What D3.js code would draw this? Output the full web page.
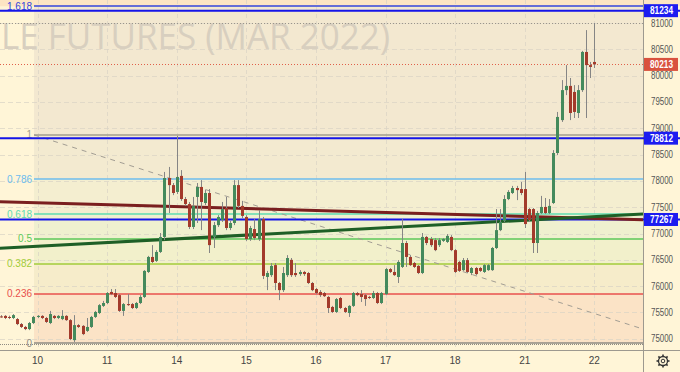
<!DOCTYPE html>
<html>
<head>
<meta charset="utf-8">
<title>Futures hourly</title>
<script src="https://d3js.org/d3.v7.min.js"></script>
<style>
  body { margin: 0; background: #fff5d7; }
  svg text { font-family: "Liberation Sans", Arial, sans-serif; }
</style>
</head>
<body>
<div id="chart"></div>
<script>
"use strict"
// hourly bars, index 0 = first bar of day 10 (the 9 before it belong to the previous day)
var firstBar = -9
var opens = [75425,75435,75415,75395,75375,75280,75225,75185,75300,
  75415,75435,75395,75300,75435,75395,75375,75435,75355,74975,75260,75245,75150,75225,75415,75490,75625,
  75680,75890,75870,75830,75530,75660,75660,75585,75680,75795,76270,76555,76480,76650,76935,78055,77920,
  77790,78095,77655,77560,77125,77695,77885,77580,77770,76935,77160,77255,77485,77105,77200,77920,77525,
  77315,76895,77085,76895,77275,76175,76210,76400,76060,75925,76210,76500,76250,76230,76270,76250,76060,
  75945,75890,75870,75795,75605,75510,75775,75585,75490,75625,75870,75850,75830,75795,75775,75870,75680,
  75850,76325,76270,76175,76365,76820,76555,76440,76385,76250,76935,76895,76875,76780,76860,76840,76935,
  76685,76460,76305,76495,76250,76345,76345,76270,76305,76305,76725,77065,77240,77655,77770,77865,77845,
  77845,77465,77465,76820,77390,77505,77390,77580,78530,79155,79725,79805,79690,79290,79725,80450,80200,
  80260]
var highs = [75450,75450,75440,75470,75395,75300,75245,75320,75435,
  75450,75450,75415,75530,75450,75450,75545,75450,75375,75450,75280,75260,75395,75435,75530,75660,75720,
  75890,75945,75945,75850,75680,75850,75680,75700,75830,76305,76575,76780,76685,77010,78170,78265,77960,
  78855,78205,77695,77600,77695,77960,78015,77830,77845,77220,77350,77600,77695,77240,78015,78015,77620,
  77350,77145,77275,77445,77315,76290,76440,76440,76080,76365,76590,76535,76440,76305,76290,76270,76080,
  75965,75925,75890,75815,75625,75775,75795,75605,75640,75890,75890,75925,75850,75815,75910,75890,75890,
  76345,76345,76400,76495,77275,76860,76590,76460,76400,77010,76955,76935,76915,76915,76915,76990,76970,
  76705,76480,76535,76535,76365,76365,76365,76420,76420,76745,77465,77465,77730,77825,77905,77905,77980,
  78170,77485,77485,77430,77715,77675,77655,78585,79310,79915,80200,79955,79820,79820,80470,80865,80260,
  81000]
var lows = [75400,75375,75375,75375,75260,75205,75165,75165,75280,
  75395,75375,75300,75280,75375,75375,75355,75340,74975,74940,75205,75070,75130,75205,75395,75470,75605,
  75660,75830,75775,75510,75435,75625,75565,75565,75660,75775,76250,76440,76460,76630,76875,77390,77730,
  77750,77620,77525,77085,77085,77200,77065,77540,76630,76725,77125,77220,77065,77065,77160,77485,77295,
  76860,76860,76875,76860,76135,75925,76175,75925,75735,75890,76175,76175,76175,76195,76195,76040,75905,
  75850,75795,75795,75490,75490,75490,75565,75490,75415,75605,75810,75700,75625,75755,75755,75660,75660,
  75830,76250,76195,76060,76345,76365,76385,76345,76230,76230,76780,76745,76665,76745,76840,76820,76665,
  76250,76270,76290,76250,76210,76210,76270,76250,76290,76290,76705,77045,77220,77635,77750,77635,77730,
  77105,77220,76630,76630,77370,77370,77370,77560,78490,79120,79630,79155,79195,79195,79690,79195,79955,
  80145]
var closes = [75420,75395,75405,75450,75280,75225,75185,75300,75415,
  75435,75395,75320,75470,75395,75435,75435,75355,74995,75260,75225,75090,75225,75415,75510,75640,75680,
  75870,75850,75795,75530,75660,75640,75585,75680,75795,76290,76555,76460,76650,76935,78055,77920,77770,
  78075,77655,77560,77125,77525,77885,77600,77770,76780,77160,77315,77465,77105,77200,77920,77525,77335,
  76895,77105,76915,77275,76195,76250,76385,76060,75925,76250,76535,76210,76210,76270,76230,76060,75925,
  75870,75830,75810,75585,75510,75755,75585,75510,75625,75870,75830,75795,75755,75775,75870,75680,75870,
  76325,76270,76210,76460,76820,76555,76400,76365,76250,76935,76820,76780,76685,76875,76895,76955,76685,
  76270,76290,76495,76270,76345,76230,76290,76400,76400,76725,77065,77220,77655,77790,77865,77825,77770,
  77180,77255,76820,77390,77505,77390,77525,78530,79215,79725,79805,79290,79310,79725,80450,80200,80165,
  80213]

var dayLabels = ['10', '11', '14', '15', '16', '17', '18', '21', '22']
var barsPerDay = 17
var priceTicks = [75000, 75500, 76000, 76500, 77000, 77500, 78000, 78500, 79000, 79500, 80000, 80500, 81000]

// fibonacci retracement drawn from the high (bar -0.85) down to the low
var fibHigh = 78874, fibLow = 74920
var fibStartBar = -0.85, fibEndBar = 158.6
var fibLevels = [0, 0.236, 0.382, 0.5, 0.618, 0.786, 1, 1.618]
var fibLabels = ['0', '0.236', '0.382', '0.5', '0.618', '0.786', '1', '1.618']

var markedLevels = [81234, 78812, 77267]
var lastPrice = 80213
var sessionHigh = 81000
// two hand drawn trend lines: [bar, price] pairs
var redTrend = [[-9.2, 77605], [147.9, 77263]]
var greenTrend = [[-9.2, 76720], [147.9, 77371]]

// styles
var fibLineColor = ['#8f8b82', '#e8504c', '#a2cc3a', '#5cc95a', '#5edcb0', '#6cbcee', '#a39c8e', '#3344dd']
var fibFill = ['#fbe3c6', '#f6ecca', '#f2f0cb', '#eff0cf', '#f4eed0', '#f3ead0', '#f3e8d0']

var W = 680, H = 372, plotW = 643, plotH = 350

var svg = d3.select('#chart').append('svg')
  .attr('width', W).attr('height', H)

var x = d3.scaleLinear().domain([0, 136]).range([37.5, 594.3])
var y = d3.scaleLinear().domain([75000, 81000]).range([338.8, 23])
var fibPrice = l => fibLow + (fibHigh - fibLow) * l
var crisp = v => Math.round(v) + 0.5

var bars = opens.map((o, i) => ({ i: firstBar + i, o: o, h: highs[i], l: lows[i], c: closes[i] }))

svg.append('rect').attr('width', W).attr('height', H).attr('fill', '#fff5d7')

// band above the top level
svg.append('rect').attr('x', 0).attr('y', 0).attr('width', W)
  .attr('height', y(fibPrice(1.618))).attr('fill', '#fde5c3')

svg.append('clipPath').attr('id', 'plot')
  .append('rect').attr('width', plotW).attr('height', plotH)

var g = svg.append('g').attr('clip-path', 'url(#plot)')

// fib fills
var fx0 = x(fibStartBar)
g.selectAll('rect.fib').data(fibLevels.slice(0, -1)).enter()
  .append('rect').attr('class', 'fib')
  .attr('x', fx0).attr('width', plotW - fx0)
  .attr('y', (d, i) => y(fibPrice(fibLevels[i + 1])))
  .attr('height', (d, i) => y(fibPrice(d)) - y(fibPrice(fibLevels[i + 1])))
  .attr('fill', (d, i) => fibFill[i])

// grid
g.append('g').selectAll('line').data(priceTicks).enter().append('line')
  .attr('x1', 0).attr('x2', plotW).attr('y1', d => crisp(y(d))).attr('y2', d => crisp(y(d)))
  .attr('stroke', '#d9d3c4').attr('stroke-opacity', 0.7).attr('stroke-dasharray', '5,3')
g.append('g').selectAll('line').data(dayLabels).enter().append('line')
  .attr('x1', (d, i) => crisp(x(i * barsPerDay))).attr('x2', (d, i) => crisp(x(i * barsPerDay)))
  .attr('y1', 0).attr('y2', plotH)
  .attr('stroke', '#d9d3c4').attr('stroke-opacity', 0.7).attr('stroke-dasharray', '4,3')

// watermark
g.append('text').attr('x', 1).attr('y', 49)
  .attr('font-size', 36).attr('fill', '#d8cfbf')
  .attr('textLength', 389).attr('lengthAdjust', 'spacingAndGlyphs')
  .style('font-family', '"Open Sans", "Liberation Sans", sans-serif')
  .text('LE FUTURES (MAR 2022)')

// fib levels
g.append('g').selectAll('line').data(fibLevels).enter().append('line')
  .attr('x1', fx0).attr('x2', plotW)
  .attr('y1', d => Math.round(y(fibPrice(d)))).attr('y2', d => Math.round(y(fibPrice(d))))
  .attr('stroke', (d, i) => fibLineColor[i]).attr('stroke-width', 1.6)
g.append('line').attr('x1', 0).attr('x2', plotW)
  .attr('y1', crisp(y(fibLow)) + 1).attr('y2', crisp(y(fibLow)) + 1)
  .attr('stroke', '#8f8b82').attr('stroke-dasharray', '1,1')
g.append('g').selectAll('text').data(fibLevels).enter().append('text')
  .attr('x', fx0 - 2).attr('y', d => y(fibPrice(d)))
  .attr('dy', '0.35em').attr('text-anchor', 'end').attr('font-size', 10)
  .attr('fill', (d, i) => fibLineColor[i])
  .text((d, i) => fibLabels[i])

// dashed line between fib anchors
g.append('line')
  .attr('x1', x(fibStartBar)).attr('y1', y(fibHigh))
  .attr('x2', x(fibEndBar)).attr('y2', y(fibLow))
  .attr('stroke', '#a29d93').attr('stroke-width', 1).attr('stroke-dasharray', '5,5')

// session high and last price
g.append('line').attr('x1', 0).attr('x2', plotW)
  .attr('y1', crisp(y(sessionHigh))).attr('y2', crisp(y(sessionHigh)))
  .attr('stroke', '#9a958b').attr('stroke-dasharray', '1,2')
g.append('line').attr('x1', 0).attr('x2', plotW)
  .attr('y1', crisp(y(lastPrice))).attr('y2', crisp(y(lastPrice)))
  .attr('stroke', '#e0604a').attr('stroke-dasharray', '1,2')

// marked horizontal levels
g.append('g').selectAll('line').data(markedLevels).enter().append('line')
  .attr('x1', 0).attr('x2', plotW).attr('y1', d => y(d)).attr('y2', d => y(d))
  .attr('stroke', '#1515e8').attr('stroke-width', 2)

// trend lines
var trend = d3.line().x(d => x(d[0])).y(d => y(d[1]))
g.append('path').attr('d', trend(redTrend)).attr('fill', 'none')
  .attr('stroke', '#7a1f1f').attr('stroke-width', 3)
g.append('path').attr('d', trend(greenTrend)).attr('fill', 'none')
  .attr('stroke', '#1e5f26').attr('stroke-width', 3)

// candles
var up = d => d.c >= d.o
var candles = g.append('g').selectAll('g').data(bars).enter().append('g')
candles.append('line')
  .attr('x1', d => Math.round(x(d.i)) + 0.5).attr('x2', d => Math.round(x(d.i)) + 0.5)
  .attr('y1', d => y(d.h)).attr('y2', d => y(d.l))
  .attr('stroke', '#858585')
candles.append('rect')
  .attr('x', d => Math.round(x(d.i)) - 1)
  .attr('width', 3)
  .attr('y', d => y(Math.max(d.o, d.c)))
  .attr('height', d => Math.max(1, Math.abs(y(d.o) - y(d.c))))
  .attr('fill', d => up(d) ? '#448a5c' : '#a33a2b')

// axis panels
svg.append('rect').attr('x', plotW).attr('y', y(fibPrice(1.618))).attr('width', W - plotW)
  .attr('height', H).attr('fill', '#fff5d7')
svg.append('rect').attr('x', 0).attr('y', plotH).attr('width', W).attr('height', H - plotH)
  .attr('fill', '#fff5d7')
svg.append('line').attr('x1', plotW + 0.5).attr('x2', plotW + 0.5).attr('y1', 0).attr('y2', H)
  .attr('stroke', '#9d998f')
svg.append('line').attr('x1', 0).attr('x2', W).attr('y1', plotH + 0.5).attr('y2', plotH + 0.5)
  .attr('stroke', '#9d998f')

// marked levels also run into the axis
svg.append('g').selectAll('line').data(markedLevels).enter().append('line')
  .attr('x1', plotW).attr('x2', W).attr('y1', d => y(d)).attr('y2', d => y(d))
  .attr('stroke', '#1515e8').attr('stroke-width', 2)

svg.append('g').selectAll('text').data(priceTicks).enter().append('text')
  .attr('x', 651).attr('y', d => y(d)).attr('dy', '0.35em')
  .attr('font-size', 10).attr('fill', '#555')
  .attr('textLength', 22).attr('lengthAdjust', 'spacingAndGlyphs')
  .text(d => d)

svg.append('g').selectAll('text').data(dayLabels).enter().append('text')
  .attr('x', (d, i) => x(i * barsPerDay)).attr('y', 364)
  .attr('text-anchor', 'middle').attr('font-size', 10).attr('fill', '#444')
  .text(d => d)

// price tags
var tags = markedLevels.map(p => ({ p: p, bg: '#1c1cf0' })).concat([{ p: lastPrice, bg: '#d9523e' }])
var tag = svg.append('g').selectAll('g').data(tags).enter().append('g')
  .attr('transform', d => 'translate(644,' + y(d.p) + ')')
tag.append('rect').attr('x', 0).attr('y', -6.5).attr('width', 34).attr('height', 13)
  .attr('fill', d => d.bg)
tag.append('text').attr('x', 6).attr('dy', '0.35em')
  .attr('font-size', 10).attr('font-weight', 'bold').attr('fill', '#fff')
  .attr('textLength', 23).attr('lengthAdjust', 'spacingAndGlyphs')
  .text(d => d.p)

// settings gear
var gear = svg.append('g').attr('transform', 'translate(663,361)')
  .attr('stroke', '#333').attr('fill', 'none')
gear.append('circle').attr('r', 4.5).attr('stroke-width', 1.3)
gear.append('circle').attr('r', 1.8).attr('stroke-width', 1)
gear.selectAll('line').data(d3.range(8)).enter().append('line')
  .attr('x1', d => 4.5 * Math.cos(d * Math.PI / 4)).attr('y1', d => 4.5 * Math.sin(d * Math.PI / 4))
  .attr('x2', d => 6.5 * Math.cos(d * Math.PI / 4)).attr('y2', d => 6.5 * Math.sin(d * Math.PI / 4))
  .attr('stroke-width', 1.6)
</script>
</body>
</html>
